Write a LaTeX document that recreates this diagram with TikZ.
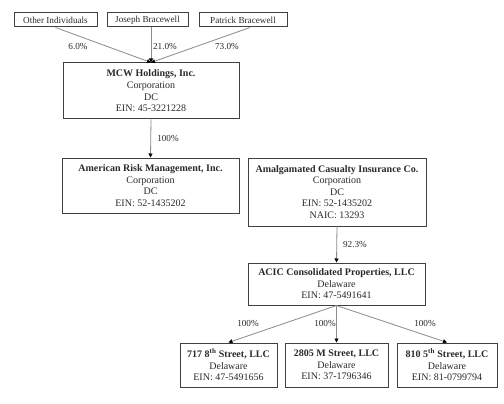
\documentclass[tikz,border=0pt]{standalone}
\usepackage{fontspec}
\setmainfont{Liberation Serif}
\usetikzlibrary{arrows.meta}
\definecolor{boxline}{HTML}{404040}
\definecolor{conn}{HTML}{8A8A8A}
\definecolor{txt}{HTML}{2A2A2A}
\begin{document}
\begin{tikzpicture}[x=1pt,y=-1pt,
  entity/.style={draw=boxline,line width=1pt,fill=white,inner sep=1pt,align=center,
    font=\fontsize{10}{11.6}\selectfont,text=txt,minimum height=#1},
  entity/.default=20pt,
  owner/.style={draw=boxline,line width=1pt,fill=white,inner sep=1pt,align=center,
    font=\fontsize{9.2}{10}\selectfont,text=txt,minimum height=14pt},
  link/.style={draw=conn,line width=0.8pt,-{Triangle[length=4pt,width=4pt,fill=black,color=black]}},
  pct/.style={font=\fontsize{9.2}{10}\selectfont,text=txt,inner sep=0pt}]
\useasboundingbox (0,0) rectangle (504,404);
\fill[white] (0,0) rectangle (504,404);

\node[owner,minimum width=83pt] (oth) at (55.5,20) {Other Individuals};
\node[owner,minimum width=81pt] (jos) at (147.5,20) {Joseph Bracewell};
\node[owner,minimum width=88pt] (pat) at (243,20) {Patrick Bracewell};

\node[entity=56pt,minimum width=176pt] (mcw) at (151,91)
  {\textbf{MCW Holdings, Inc.}\\Corporation\\DC\\EIN: 45-3221228};
\node[entity=55pt,minimum width=177pt] (arm) at (150.5,185.5)
  {\textbf{American Risk Management, Inc.}\\Corporation\\DC\\EIN: 52-1435202};
\node[entity=68pt,minimum width=178pt] (aci) at (337,192)
  {\textbf{Amalgamated Casualty Insurance Co.}\\Corporation\\DC\\EIN: 52-1435202\\NAIC: 13293};
\node[entity=42pt,minimum width=177pt] (acp) at (336.5,284)
  {\textbf{ACIC Consolidated Properties, LLC}\\Delaware\\EIN: 47-5491641};
\node[entity=44pt,minimum width=97pt] (s717) at (228.5,365)
  {\textbf{717 8\textsuperscript{th} Street, LLC}\\Delaware\\EIN: 47-5491656};
\node[entity=44pt,minimum width=103pt] (s2805) at (336.5,365)
  {\textbf{2805 M Street, LLC}\\Delaware\\EIN: 37-1796346};
\node[entity=44pt,minimum width=100pt] (s810) at (447,365)
  {\textbf{810 5\textsuperscript{th} Street, LLC}\\Delaware\\EIN: 81-0799794};

\draw[link] (oth.south) -- (mcw.north);
\draw[link] (jos.south -| mcw.north) -- (mcw.north);
\draw[link] ([xshift=7pt]pat.south) -- (mcw.north);
\draw[link] (mcw.south) -- (arm.north);
\draw[link] (aci.south) -- (acp.north);
\draw[link] (acp.south) -- (s717.north);
\draw[link] (acp.south) -- (s2805.north);
\draw[link] (acp.south) -- (s810.north);

\node[pct] (p1) at (78,47) {6.0\%};
\node[pct] (p2) at (165,47) {21.0\%};
\node[pct] (p3) at (227,47) {73.0\%};
\node[pct] (p4) at (168,139) {100\%};
\node[pct] (p5) at (355,245) {92.3\%};
\node[pct] (p6) at (248,324) {100\%};
\node[pct] (p7) at (325,324) {100\%};
\node[pct] (p8) at (425,324) {100\%};
\end{tikzpicture}
\end{document}
